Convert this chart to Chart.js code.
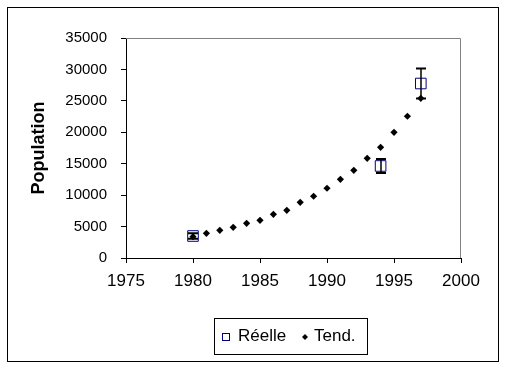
<!DOCTYPE html>
<html>
<head>
<meta charset="utf-8">
<script src="https://cdn.jsdelivr.net/npm/chart.js@4.4.0/dist/chart.umd.min.js"></script>
<style>
html, body { margin: 0; padding: 0; background: #fff; }
canvas { display: block; }
</style>
</head>
<body>
<canvas id="chart" width="508" height="368"></canvas>
<script>
// values
var reelleYears = [1980, 1994, 1997];
var reelle = [3500, 14640, 27760];
var reelleErr = [420, 1100, 2400];

var tendYears = [1980, 1981, 1982, 1983, 1984, 1985, 1986, 1987, 1988,
                 1989, 1990, 1991, 1992, 1993, 1994, 1995, 1996, 1997];
var tend = [3390, 3930, 4410, 4880, 5520, 6000, 6950, 7590, 8860,
            9820, 11100, 12520, 13950, 15860, 17610, 20000, 22550, 25410];

var xTicks = [1975, 1980, 1985, 1990, 1995, 2000];
var yTicks = [0, 5000, 10000, 15000, 20000, 25000, 30000, 35000];

Chart.defaults.font.family = '"Liberation Sans", Arial, sans-serif';
Chart.defaults.color = '#000';

function pts(xs, ys) {
    return xs.map(function (x, i) { return {x: x, y: ys[i]}; });
}

// outer frame + grey top/right edge of the plot area
var framePlugin = {
    id: 'frame',
    beforeDatasetsDraw: function (chart) {
        var ctx = chart.ctx, a = chart.chartArea;
        ctx.save();
        ctx.strokeStyle = '#808080';
        ctx.lineWidth = 1;
        ctx.beginPath();
        ctx.moveTo(a.left, a.top + 0.5);
        ctx.lineTo(a.right - 0.5, a.top + 0.5);
        ctx.lineTo(a.right - 0.5, a.bottom);
        ctx.stroke();
        ctx.restore();
    },
    afterDraw: function (chart) {
        var ctx = chart.ctx;
        ctx.save();
        ctx.strokeStyle = '#000';
        ctx.lineWidth = 1;
        ctx.strokeRect(7.5, 7.5, 491, 354);
        ctx.restore();
    }
};

// error bars on the "Réelle" series
var errorPlugin = {
    id: 'errbars',
    afterDatasetsDraw: function (chart) {
        var ctx = chart.ctx;
        var xs = chart.scales.x, ys = chart.scales.y;
        ctx.save();
        ctx.strokeStyle = '#000';
        reelleYears.forEach(function (yr, i) {
            var x = Math.round(xs.getPixelForValue(yr));
            var top = ys.getPixelForValue(reelle[i] + reelleErr[i]);
            var bot = ys.getPixelForValue(reelle[i] - reelleErr[i]);
            ctx.lineWidth = 1.5;
            ctx.beginPath();
            ctx.moveTo(x, top);
            ctx.lineTo(x, bot);
            ctx.stroke();
            ctx.lineWidth = 2;
            ctx.beginPath();
            ctx.moveTo(x - 5, top);
            ctx.lineTo(x + 5, top);
            ctx.moveTo(x - 5, bot);
            ctx.lineTo(x + 5, bot);
            ctx.stroke();
        });
        ctx.restore();
    }
};

// boxed legend under the plot
var legendPlugin = {
    id: 'boxlegend',
    afterDraw: function (chart) {
        var ctx = chart.ctx;
        var ds = chart.data.datasets;
        ctx.save();
        ctx.strokeStyle = '#000';
        ctx.lineWidth = 1;
        ctx.strokeRect(214.5, 318.5, 153, 36);

        ctx.font = '17px "Liberation Sans", Arial, sans-serif';
        ctx.fillStyle = '#000';
        ctx.textBaseline = 'middle';

        ctx.strokeStyle = '#000080';
        ctx.strokeRect(222.5, 333.5, 7, 7);
        ctx.fillText(ds[0].label, 238, 336.5);

        ctx.beginPath();
        ctx.moveTo(305, 334);
        ctx.lineTo(308, 337);
        ctx.lineTo(305, 340);
        ctx.lineTo(302, 337);
        ctx.closePath();
        ctx.fill();
        ctx.fillText(ds[1].label, 314, 336.5);
        ctx.restore();
    }
};

new Chart(document.getElementById('chart'), {
    type: 'scatter',
    data: {
        datasets: [{
            label: 'Réelle',
            data: pts(reelleYears, reelle),
            pointStyle: 'rect',
            pointRadius: 7.5,
            pointBorderColor: '#000080',
            pointBackgroundColor: 'rgba(0,0,0,0)',
            pointBorderWidth: 1,
            showLine: false
        }, {
            label: 'Tend.',
            data: pts(tendYears, tend),
            pointStyle: 'rectRot',
            pointRadius: 3.6,
            pointBorderWidth: 0,
            pointBackgroundColor: '#000',
            pointBorderColor: '#000',
            showLine: false
        }]
    },
    options: {
        responsive: false,
        animation: false,
        events: [],
        layout: { padding: { left: 0, right: 47, top: 38, bottom: 70 } },
        plugins: {
            legend: { display: false },
            tooltip: { enabled: false }
        },
        scales: {
            x: {
                type: 'linear',
                min: 1975,
                max: 2000,
                afterBuildTicks: function (s) { s.ticks = xTicks.map(function (v) { return {value: v}; }); },
                afterFit: function (s) { s.height = 40; },
                grid: { drawOnChartArea: false, tickLength: 5, color: '#000' },
                border: { color: '#000', width: 1 },
                ticks: {
                    font: { size: 17 },
                    padding: 8,
                    maxRotation: 0,
                    autoSkip: false,
                    callback: function (v) { return String(v); }
                }
            },
            y: {
                type: 'linear',
                min: 0,
                max: 35000,
                afterBuildTicks: function (s) { s.ticks = yTicks.map(function (v) { return {value: v}; }); },
                afterFit: function (s) { s.width = 126; },
                grid: { drawOnChartArea: false, tickLength: 5, color: '#000' },
                border: { color: '#000', width: 1 },
                ticks: {
                    font: { size: 15 },
                    padding: 14,
                    callback: function (v) { return String(v); }
                },
                title: {
                    display: true,
                    text: 'Population',
                    font: { size: 18, weight: 'bold' },
                    padding: { top: 28, bottom: 0 }
                }
            }
        }
    },
    plugins: [framePlugin, errorPlugin, legendPlugin]
});
</script>
</body>
</html>
